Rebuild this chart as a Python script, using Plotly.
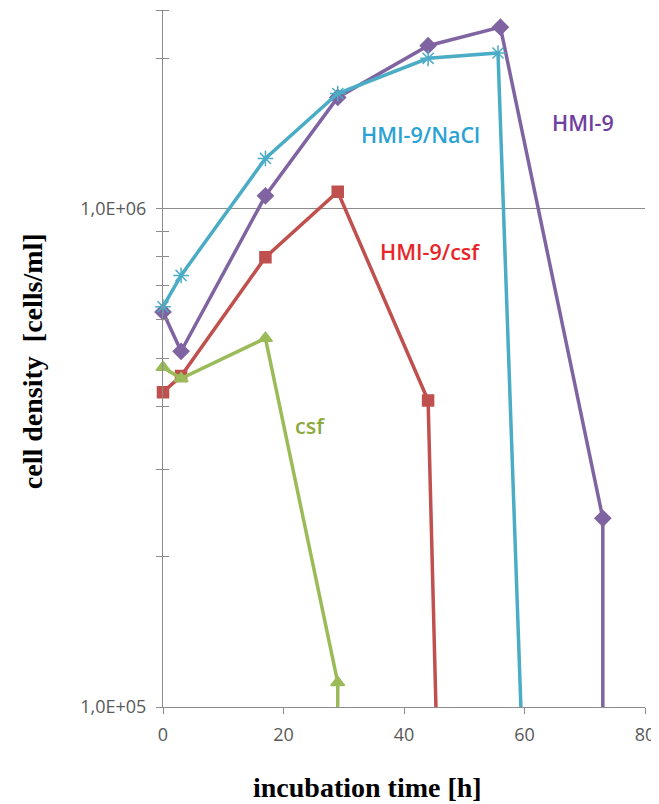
import math
import plotly.graph_objects as go

# ---- data ----
hmi9_t = [0, 3, 17, 29, 44, 56, 73, 73]
hmi9_v = [6.2e5, 5.17e5, 1.06e6, 1.67e6, 2.12e6, 2.31e6, 2.39e5, 1.0e5]

nacl_t = [0, 3, 17, 29, 44, 55.6, 59.4]
nacl_v = [6.35e5, 7.34e5, 1.26e6, 1.70e6, 2.0e6, 2.05e6, 1.0e5]

csf_mix_t = [0, 3, 17, 29, 44, 45.3]
csf_mix_v = [4.28e5, 4.61e5, 7.98e5, 1.08e6, 4.12e5, 1.0e5]

csf_t = [0, 3, 17, 29, 29]
csf_v = [4.8e5, 4.56e5, 5.49e5, 1.12e5, 1.0e5]

x_ticks = [0, 20, 40, 60, 80]
y_major = [1e5, 1e6]
y_major_text = ["1,0E+05", "1,0E+06"]
y_minor = [2e5, 3e5, 4e5, 5e5, 6e5, 7e5, 8e5, 9e5, 2e6, 2.5e6]

labels = ["HMI-9/NaCl", "HMI-9", "HMI-9/csf", "csf"]
label_x = [42.8, 69.7, 44.3, 24.4]
label_y = [1.41e6, 1.49e6, 8.2e5, 3.67e5]

# ---- styling ----
PURPLE, CYAN, RED, GREEN = "#8064A2", "#4BACC6", "#C0504D", "#9BBB59"
label_colors = ["#2AA3D4", "#7040A0", "#E8262A", "#8DAA3F"]
Y_RANGE = [5, 6.398]
AX = "#8C8C8C"


def sizes(n, s):
    return [s] * (n - 1) + [0]


fig = go.Figure()

series = [
    (hmi9_t, hmi9_v, PURPLE, "diamond", 12, "HMI-9"),
    (nacl_t, nacl_v, CYAN, "asterisk-open", 13, "HMI-9/NaCl"),
    (csf_mix_t, csf_mix_v, RED, "square", 11, "HMI-9/csf"),
    (csf_t, csf_v, GREEN, "triangle-up", 12, "csf"),
]
for t, v, col, sym, sz, name in series:
    fig.add_trace(go.Scatter(
        x=t, y=v, mode="lines+markers", name=name,
        line=dict(color=col, width=3.5),
        marker=dict(symbol=sym, size=sizes(len(t), sz), color=col, opacity=1,
                    line=dict(color=col, width=1.5)),
        cliponaxis=False, showlegend=False,
    ))

# empty trace for the overlay axis carrying inside tick marks
fig.add_trace(go.Scatter(x=[], y=[], yaxis="y2", showlegend=False))

for txt, lx, ly, c in zip(labels, label_x, label_y, label_colors):
    fig.add_annotation(x=lx, y=math.log10(ly), xref="x", yref="y", text=txt,
                       showarrow=False,
                       font=dict(family="Open Sans", size=21.5, weight=600, color=c))

fig.add_annotation(xref="paper", yref="paper", x=0.425, y=-0.115,
                   text="<b>incubation time [h]</b>", showarrow=False,
                   xanchor="center", yanchor="middle",
                   font=dict(family="Liberation Serif", size=28, color="black"))
fig.add_annotation(xref="paper", yref="paper", x=-0.272, y=0.496,
                   text="<b>cell density  [cells/ml]</b>", showarrow=False,
                   xanchor="center", yanchor="middle", textangle=-90,
                   font=dict(family="Liberation Serif", size=28, color="black"))

# page body has an 8px margin, so the figure is sized to end at the window edge
fig.update_layout(
    width=651, height=796,
    margin=dict(l=155, r=14, t=2, b=97),
    paper_bgcolor="white", plot_bgcolor="white",
    xaxis=dict(range=[0, 80], tickvals=x_ticks, showgrid=False, zeroline=False,
               showline=True, linecolor=AX, linewidth=1,
               ticks="outside", ticklen=6, tickcolor=AX,
               ticklabelstandoff=5,
               tickfont=dict(family="Open Sans", size=18, color="#595959")),
    yaxis=dict(type="log", range=Y_RANGE, tickvals=y_major, ticktext=y_major_text,
               showgrid=True, gridcolor=AX, gridwidth=1,
               showline=True, linecolor=AX, linewidth=1,
               ticks="outside", ticklen=6, tickcolor=AX,
               ticklabelstandoff=6,
               tickfont=dict(family="Open Sans", size=18, color="#595959"),
               minor=dict(tickvals=y_minor, ticks="outside", ticklen=6,
                          tickcolor=AX, showgrid=False)),
    yaxis2=dict(type="log", range=Y_RANGE, overlaying="y", side="left",
                showgrid=False, showline=False, showticklabels=False,
                tickvals=y_major, ticks="", zeroline=False,
                minor=dict(tickvals=y_minor, ticks="inside", ticklen=6,
                           tickcolor=AX, showgrid=False)),
)

fig.write_html("out.html", config={"displayModeBar": False})
